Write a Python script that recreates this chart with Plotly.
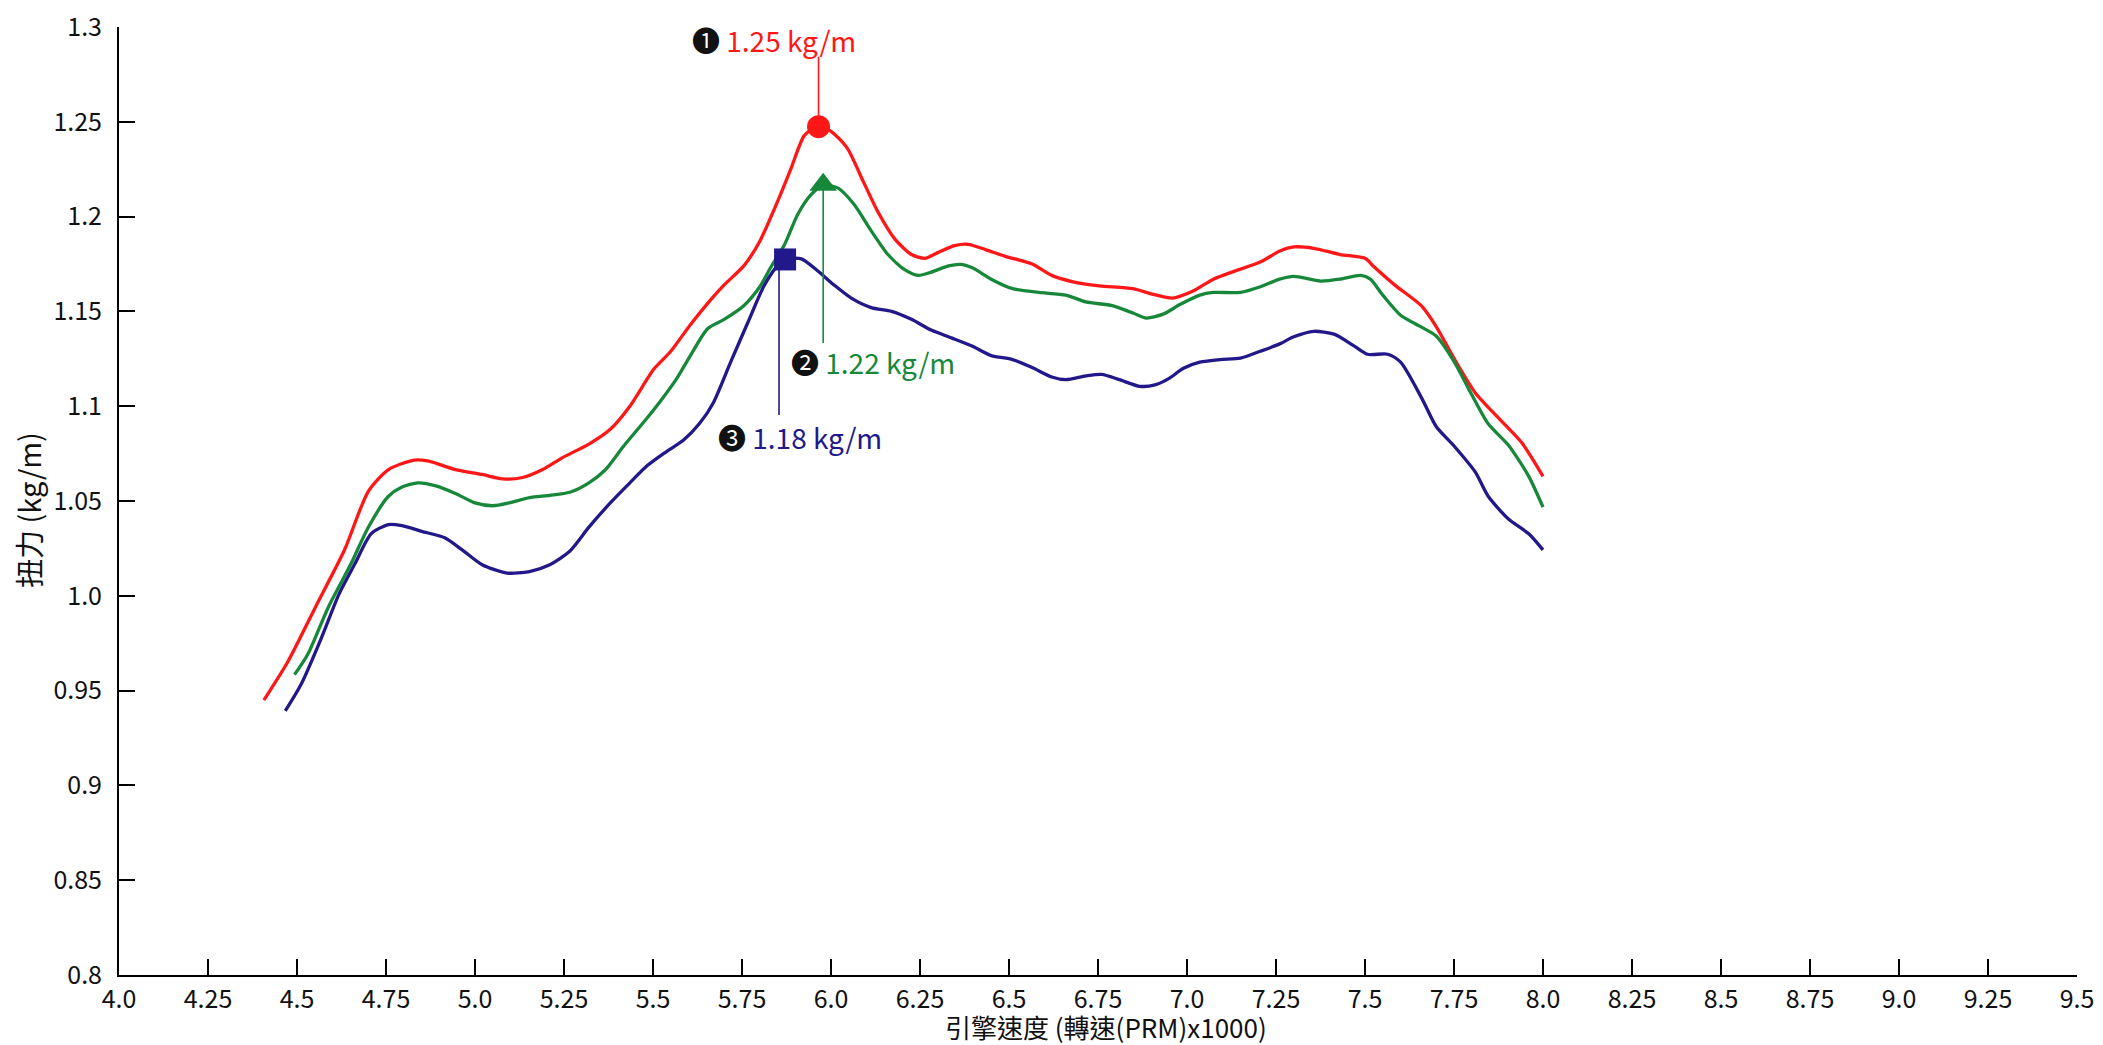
import plotly.graph_objects as go

# ---------------- data ----------------
red_x = [4.407, 4.475, 4.557, 4.633, 4.70, 4.757, 4.83, 4.87, 4.945, 5.02, 5.077, 5.134, 5.19, 5.247,
         5.32, 5.38, 5.435, 5.503, 5.55, 5.605, 5.66, 5.70, 5.755, 5.80, 5.85, 5.887, 5.925, 5.963,
         6.0, 6.046, 6.087, 6.132, 6.18, 6.226, 6.264, 6.30, 6.347, 6.385, 6.434, 6.49, 6.565, 6.62,
         6.68, 6.754, 6.848, 6.905, 6.96, 7.017, 7.074, 7.13, 7.206, 7.262, 7.30, 7.356, 7.43, 7.50,
         7.526, 7.583, 7.658, 7.70, 7.752, 7.81, 7.88, 7.94, 8.0]
red_y = [0.945, 0.9655, 0.996, 1.024, 1.055, 1.0666, 1.0716, 1.071, 1.0666, 1.064, 1.0617, 1.0624,
         1.0666, 1.073, 1.080, 1.0878, 1.100, 1.1197, 1.129, 1.143, 1.1557, 1.164, 1.174, 1.187, 1.208,
         1.225, 1.2427, 1.2477, 1.245, 1.236, 1.220, 1.2024, 1.188, 1.180, 1.178, 1.181, 1.1847, 1.1854,
         1.1826, 1.179, 1.175, 1.169, 1.1656, 1.1635, 1.162, 1.159, 1.157, 1.1607, 1.167, 1.171, 1.176,
         1.182, 1.184, 1.1833, 1.180, 1.178, 1.1734, 1.164, 1.153, 1.142, 1.1246, 1.107, 1.0928, 1.0808,
         1.063]

green_x = [4.493, 4.53, 4.588, 4.652, 4.70, 4.757, 4.795, 4.84, 4.89, 4.945, 5.00, 5.05, 5.096, 5.153,
           5.21, 5.266, 5.32, 5.367, 5.416, 5.473, 5.518, 5.567, 5.605, 5.654, 5.70, 5.755, 5.80, 5.83,
           5.87, 5.906, 5.944, 5.98, 6.02, 6.064, 6.113, 6.16, 6.207, 6.245, 6.28, 6.33, 6.366, 6.40,
           6.45, 6.51, 6.583, 6.66, 6.716, 6.79, 6.85, 6.886, 6.935, 6.98, 7.036, 7.074, 7.15, 7.206,
           7.26, 7.30, 7.375, 7.43, 7.488, 7.515, 7.55, 7.60, 7.66, 7.70, 7.752, 7.80, 7.846, 7.903,
           7.96, 8.0]
green_y = [0.9584, 0.969, 0.994, 1.017, 1.036, 1.0525, 1.0574, 1.0596, 1.058, 1.054, 1.049, 1.0475,
           1.049, 1.0518, 1.053, 1.0546, 1.0596, 1.0666, 1.0786, 1.0914, 1.102, 1.1147, 1.1267, 1.141,
           1.1458, 1.153, 1.163, 1.173, 1.1854, 1.201, 1.2116, 1.2166, 1.215, 1.2066, 1.1925, 1.180,
           1.172, 1.169, 1.1706, 1.174, 1.1748, 1.1727, 1.167, 1.162, 1.160, 1.1586, 1.155, 1.153, 1.149,
           1.1465, 1.1487, 1.1536, 1.1586, 1.160, 1.160, 1.163, 1.167, 1.1685, 1.166, 1.167, 1.169, 1.167,
           1.1586, 1.148, 1.1416, 1.137, 1.123, 1.106, 1.0907, 1.0794, 1.063, 1.0468]

blue_x = [4.467, 4.512, 4.569, 4.618, 4.663, 4.708, 4.757, 4.795, 4.85, 4.915, 4.964, 5.02, 5.09, 5.153,
          5.21, 5.266, 5.32, 5.38, 5.435, 5.484, 5.53, 5.586, 5.63, 5.67, 5.718, 5.767, 5.812, 5.85,
          5.88, 5.917, 5.963, 6.008, 6.057, 6.113, 6.17, 6.226, 6.283, 6.34, 6.396, 6.45, 6.51, 6.565,
          6.62, 6.66, 6.716, 6.76, 6.81, 6.867, 6.91, 6.95, 6.99, 7.036, 7.093, 7.15, 7.206, 7.262, 7.30,
          7.356, 7.413, 7.47, 7.507, 7.564, 7.60, 7.66, 7.70, 7.752, 7.81, 7.846, 7.903, 7.96, 8.0]
blue_y = [0.9393, 0.9535, 0.978, 1.0009, 1.017, 1.0327, 1.0376, 1.037, 1.034, 1.0306, 1.0242, 1.0164,
          1.012, 1.0128, 1.0164, 1.0235, 1.0362, 1.049, 1.0596, 1.0687, 1.0751, 1.0822, 1.0907, 1.102,
          1.1232, 1.1444, 1.1635, 1.1741, 1.1777, 1.1777, 1.1713, 1.164, 1.157, 1.152, 1.150, 1.1458,
          1.140, 1.1359, 1.1317, 1.1267, 1.1246, 1.1204, 1.1154, 1.114, 1.116, 1.1168, 1.114, 1.1105,
          1.1112, 1.1147, 1.120, 1.1232, 1.1246, 1.1253, 1.129, 1.133, 1.1366, 1.1395, 1.138, 1.1317,
          1.1274, 1.1274, 1.1232, 1.104, 1.0893, 1.0786, 1.0652, 1.0525, 1.0405, 1.0327, 1.0242]

# peak markers and call-outs
marker_x = [5.965, 5.978, 5.871]
marker_y = [1.2474, 1.2168, 1.1774]
stem_x = [5.965, 5.978, 5.854]
stem_end_y = [1.2843, 1.1333, 1.0954]
label_x = [5.604, 5.882, 5.677]
label_y = [1.2931, 1.1233, 1.0838]
label_num = ["❶", "❷", "❸"]
label_txt = ["1.25 kg/m", "1.22 kg/m", "1.18 kg/m"]

x_ticks = [4.0, 4.25, 4.5, 4.75, 5.0, 5.25, 5.5, 5.75, 6.0, 6.25, 6.5, 6.75, 7.0, 7.25, 7.5, 7.75,
           8.0, 8.25, 8.5, 8.75, 9.0, 9.25, 9.5]
x_tick_text = ["4.0", "4.25", "4.5", "4.75", "5.0", "5.25", "5.5", "5.75", "6.0", "6.25", "6.5",
               "6.75", "7.0", "7.25", "7.5", "7.75", "8.0", "8.25", "8.5", "8.75", "9.0", "9.25", "9.5"]
y_ticks = [0.8, 0.85, 0.9, 0.95, 1.0, 1.05, 1.1, 1.15, 1.2, 1.25, 1.3]
y_tick_text = ["0.8", "0.85", "0.9", "0.95", "1.0", "1.05", "1.1", "1.15", "1.2", "1.25", "1.3"]

x_title = "引擎速度 (轉速(PRM)x1000)"
y_title = "扭力 (kg/m)"

# ---------------- style ----------------
RED = "#FF1616"
GREEN = "#17883A"
BLUE = "#21188A"
colors = [RED, GREEN, BLUE]
symbols = ["circle", "triangle-up", "square"]
msizes = [23, 24, 22]
FONT = "Noto Sans CJK TC, Noto Sans, sans-serif"

fig = go.Figure()
for xs, ys, c in [(red_x, red_y, RED), (green_x, green_y, GREEN), (blue_x, blue_y, BLUE)]:
    fig.add_trace(go.Scatter(x=xs, y=ys, mode="lines",
                             line=dict(color=c, width=3.3, shape="spline", smoothing=0.7),
                             hoverinfo="skip", showlegend=False))

for i in range(3):
    fig.add_trace(go.Scatter(x=[stem_x[i], stem_x[i]], y=[marker_y[i], stem_end_y[i]], mode="lines",
                             line=dict(color=colors[i], width=1.6), showlegend=False, hoverinfo="skip"))
    fig.add_trace(go.Scatter(x=[marker_x[i]], y=[marker_y[i]], mode="markers",
                             marker=dict(symbol=symbols[i], size=msizes[i], color=colors[i],
                                         line=dict(width=0)),
                             showlegend=False))
    fig.add_annotation(x=label_x[i], y=label_y[i], xref="x", yref="y", xanchor="left",
                       yanchor="middle", showarrow=False,
                       text=f"<span style='color:#111111'>{label_num[i]}</span> {label_txt[i]}",
                       font=dict(family=FONT, size=28, color=colors[i]))

# axis titles as annotations
fig.add_annotation(x=0.5, y=0, xref="paper", yref="paper", yshift=-51, xshift=8,
                   xanchor="center", yanchor="middle", showarrow=False, text=x_title,
                   font=dict(family=FONT, size=26, color="#111111"))
fig.add_annotation(x=0, y=0.5, xref="paper", yref="paper", xshift=-91, yshift=-9,
                   xanchor="center", yanchor="middle", showarrow=False, text=y_title,
                   textangle=-90, font=dict(family=FONT, size=29, color="#111111"))

axis_common = dict(showline=True, linecolor="black", linewidth=2, ticks="inside", ticklen=16,
                   tickwidth=2, tickcolor="black", showgrid=False, zeroline=False,
                   ticklabeloverflow="allow", automargin=False,
                   tickfont=dict(family=FONT, size=25, color="#111111"))
fig.update_xaxes(range=[4.0, 9.5], tickvals=x_ticks, ticktext=x_tick_text,
                 ticklabelstandoff=1, **axis_common)
fig.update_yaxes(range=[0.8, 1.3], tickvals=y_ticks, ticktext=y_tick_text,
                 ticklabelstandoff=10, **axis_common)

# the page body adds an 8 px offset; size the figure so the plot area lands where the reference has it
fig.update_layout(width=2095, height=1037, margin=dict(l=111, r=26, t=19, b=70, autoexpand=False),
                  plot_bgcolor="white", paper_bgcolor="white", showlegend=False)

fig.write_html("out.html")
